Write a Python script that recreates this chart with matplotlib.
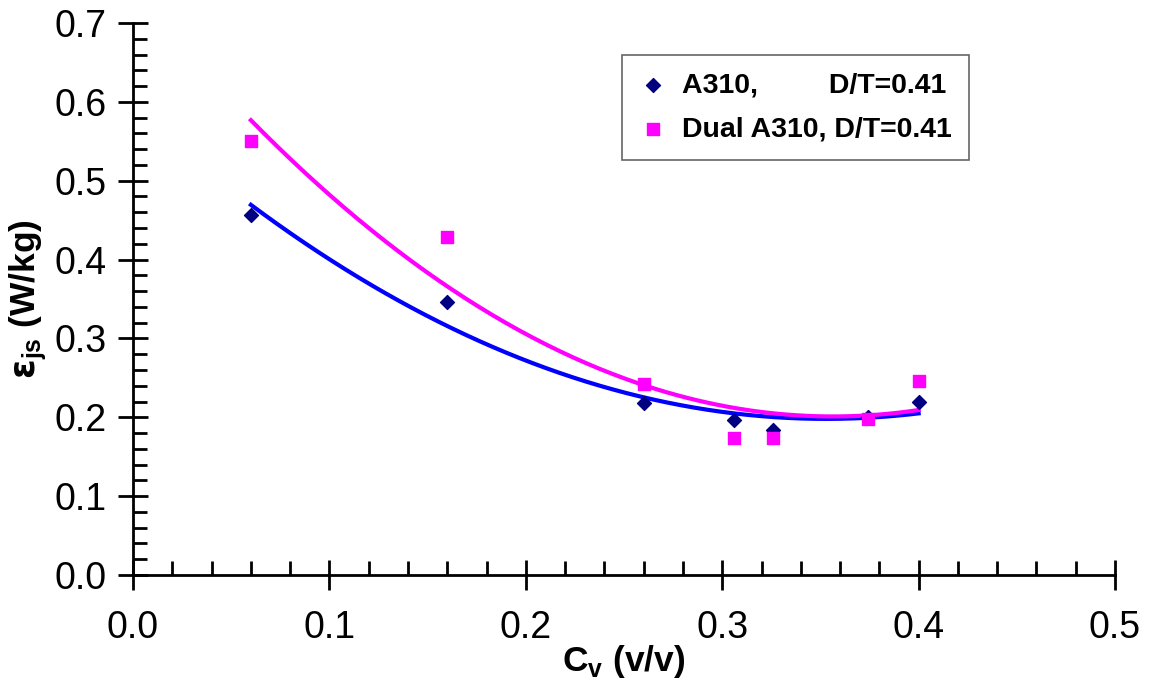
import numpy as np
import matplotlib.pyplot as plt
from matplotlib.ticker import MultipleLocator, FormatStrFormatter

plt.rcParams['font.family'] = ['Liberation Sans', 'DejaVu Sans']

# C_v (v/v)
cv = [0.06, 0.16, 0.26, 0.306, 0.326, 0.374, 0.40]
# eps_js (W/kg)
a310 = [0.457, 0.346, 0.218, 0.196, 0.184, 0.200, 0.219]
dual_a310 = [0.550, 0.428, 0.242, 0.174, 0.174, 0.198, 0.246]

fig = plt.figure(figsize=(11.5, 6.86), dpi=100)
ax = fig.add_axes([0.1157, 0.1618, 0.8539, 0.8047])

ax.scatter(cv, a310, marker='D', s=50, color='#000080', zorder=3,
           label='A310,         D/T=0.41')
ax.scatter(cv, dual_a310, marker='s', s=80, color='#ff00ff', zorder=3,
           label='Dual A310, D/T=0.41')

# 2nd order polynomial trendlines
xs = np.linspace(min(cv), max(cv), 200)
p1 = np.polyfit(cv, a310, 2)
p2 = np.polyfit(cv, dual_a310, 2)
ax.plot(xs, np.polyval(p1, xs), color='#0000ff', lw=3, zorder=2)
ax.plot(xs, np.polyval(p2, xs), color='#ff00ff', lw=3, zorder=2)

ax.set_xlim(0, 0.5)
ax.set_ylim(0, 0.7)
ax.xaxis.set_major_locator(MultipleLocator(0.1))
ax.xaxis.set_minor_locator(MultipleLocator(0.02))
ax.yaxis.set_major_locator(MultipleLocator(0.1))
ax.yaxis.set_minor_locator(MultipleLocator(0.02))
ax.xaxis.set_major_formatter(FormatStrFormatter('%.1f'))
ax.yaxis.set_major_formatter(FormatStrFormatter('%.1f'))

ax.spines['top'].set_visible(False)
ax.spines['right'].set_visible(False)
for s in ['left', 'bottom']:
    ax.spines[s].set_linewidth(2)
ax.tick_params(which='major', direction='inout', length=22, width=2,
               labelsize=27)
ax.tick_params(axis='x', which='major', pad=14)
ax.tick_params(axis='y', which='major', pad=8)
ax.tick_params(which='minor', direction='in', length=10, width=2)

ax.set_xlabel(r'C$_\mathregular{v}$ (v/v)', fontsize=25.5, fontweight='bold',
              labelpad=-2)
ax.set_ylabel(r'$\mathbf{\varepsilon}_\mathregular{js}$ (W/kg)', fontsize=25.5,
              fontweight='bold', labelpad=4)

leg = ax.legend(loc='upper left', bbox_to_anchor=(0.498, 0.942),
                prop={'weight': 'bold', 'size': 20.5},
                frameon=True, fancybox=False, edgecolor='#404040',
                handlelength=1.0, handletextpad=0.5, labelspacing=0.65,
                borderpad=0.6, scatterpoints=1, borderaxespad=0)
leg.get_frame().set_linewidth(1.2)

fig.savefig('out.png', dpi=100)
